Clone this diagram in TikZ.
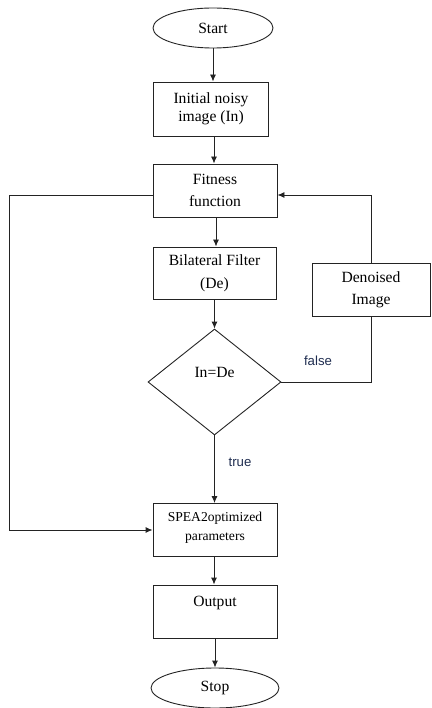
\documentclass[tikz,border=0pt]{standalone}
\usepackage{fontspec}
\setmainfont{Liberation Serif}
\newfontfamily\lblfont{Liberation Sans}
\usetikzlibrary{shapes.geometric,arrows.meta}
\definecolor{lblcol}{RGB}{31,45,80}
\definecolor{linecol}{RGB}{35,35,35}
\begin{document}
\begin{tikzpicture}[x=1pt,y=-1pt,
  mainfont/.style={font=\rmfamily\fontsize{15.6}{18}\selectfont},
  boxnode/.style={mainfont,draw=linecol,line width=0.9pt,rectangle,align=center,inner sep=0pt},
  ovalnode/.style={mainfont,draw=linecol,line width=0.9pt,ellipse,inner sep=0pt},
  decnode/.style={mainfont,draw=linecol,line width=0.9pt,diamond,aspect=1.255,inner sep=0pt,minimum width=133pt,minimum height=106pt},
  conn/.style={draw=linecol,line width=0.9pt},
  arr/.style={conn,-{Latex[length=7pt,width=6pt]}},
  lbl/.style={font=\lblfont\fontsize{13.2}{16}\selectfont,text=lblcol}]
\useasboundingbox (0,0) rectangle (431,708);
\node[ovalnode,minimum width=120pt,minimum height=40pt] (start) at (213,28) {Start};
\node[boxnode,minimum width=115pt,minimum height=54pt] (init) at (211,109) {Initial noisy\\image (In)};
\node[boxnode,minimum width=124pt,minimum height=53pt] (fit) at (215,190.5) {Fitness\\[4pt]function};
\node[boxnode,minimum width=123pt,minimum height=52pt] (bil) at (214.5,273) {Bilateral Filter\\[5pt](De)};
\node[boxnode,minimum width=118pt,minimum height=53pt] (den) at (371,289.5) {Denoised\\[4pt]Image};
\node[decnode] (dec) at (214.5,382) {\raisebox{10pt}[\height][\depth]{In=De}};
\node[boxnode,minimum width=124pt,minimum height=53pt,font=\rmfamily\fontsize{13.6}{16}\selectfont] (spea) at (215,530) {\raisebox{2pt}[\height][\depth]{SPEA2optimized}\\[3pt]\raisebox{2pt}[\height][\depth]{parameters}};
\node[boxnode,minimum width=124pt,minimum height=53pt] (out) at (215,611.5) {\raisebox{8.5pt}[\height][\depth]{Output}};
\node[ovalnode,minimum width=128pt,minimum height=40pt] (stop) at (215,688) {Stop};
\coordinate (L) at (9.5,0);
\draw[arr] (start.south) -- (start.south |- init.north);
\draw[arr] ([xshift=3pt]init.south) -- ([xshift=3pt]init.south |- fit.north);
\draw[arr] ([xshift=1pt]fit.south) -- ([xshift=1pt]fit.south |- bil.north);
\draw[arr] (bil.south) -- (dec.north);
\draw[arr] (dec.south) -- (dec.south |- spea.north);
\draw[arr] ([xshift=-1pt]spea.south) -- ([xshift=-1pt]spea.south |- out.north);
\draw[arr] (out.south) -- (out.south |- stop.north);
\draw[conn] (dec.east) -| (den.south);
\draw[arr] (den.north) |- ([yshift=-4.5pt]fit.east);
\draw[arr] ([yshift=-4.5pt]fit.west) -| (L |- spea.west) -- (spea.west);
\node[lbl] (lf) at (318,361) {false};
\node[lbl] (lt) at (240,462) {true};
\end{tikzpicture}
\end{document}
